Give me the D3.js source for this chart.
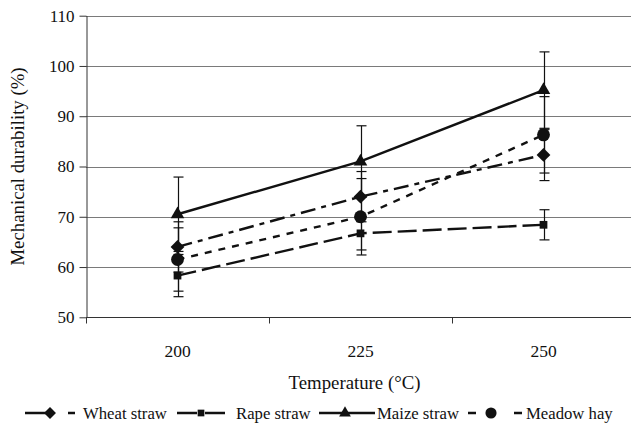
<!DOCTYPE html>
<html>
<head>
<meta charset="utf-8">
<script src="https://cdn.jsdelivr.net/npm/d3@7"></script>
</head>
<body style="margin:0; background:#fff">
<div id="chart"></div>
<script>
let width = 631,
    height = 424,
    margin = ({ top: 15.7, right: -4, bottom: 106.7, left: 86 });

const serif = "Liberation Serif";

// data
const temps = ["200", "225", "250"];
const yTicks = [50, 60, 70, 80, 90, 100, 110];
const wheat = [64.0, 74.0, 82.3];
const wheatErr = [5.0, 5.0, 5.1];
const rape = [58.3, 66.7, 68.4];
const rapeErr = [4.2, 3.3, 3.0];
const maize = [70.5, 81.0, 95.2];
const maizeErr = [7.4, 7.1, 7.6];
const meadow = [61.5, 70.0, 86.3];
const meadowErr = [6.3, 7.6, 7.6];

const series = [
  { name: "Wheat straw", values: wheat, err: wheatErr, symbol: d3.symbolSquare, rot: 45, size: 95, dash: "15,6,5,6", legendDash: "22,21,7,100" },
  { name: "Rape straw", values: rape, err: rapeErr, symbol: d3.symbolSquare, rot: 0, size: 60, dash: "19,6", legendDash: "20,8,20,100" },
  { name: "Maize straw", values: maize, err: maizeErr, symbol: d3.symbolTriangle, rot: 0, size: 80, dash: null, legendDash: null },
  { name: "Meadow hay", values: meadow, err: meadowErr, symbol: d3.symbolCircle, rot: 0, size: 130, dash: "7,7", legendDash: "8,38,8,100" }
];

const svg = d3.select("#chart")
  .append("svg")
  .attr("width", width)
  .attr("height", height);

let x = d3.scaleBand()
  .domain(temps)
  .range([margin.left, width - margin.right]);

let y = d3.scaleLinear()
  .domain([50, 110])
  .range([height - margin.bottom, margin.top]);

const cx = d => x(d) + x.bandwidth() / 2;

// gridlines
svg.append("g")
  .selectAll("line")
  .data(yTicks.slice(1))
  .join("line")
  .attr("x1", margin.left)
  .attr("x2", width)
  .attr("y1", d => Math.round(y(d)) + 0.5)
  .attr("y2", d => Math.round(y(d)) + 0.5)
  .attr("stroke", "#7a7a7a")
  .attr("stroke-width", 1);

// y axis
const yAxis = svg.append("g")
  .attr("transform", `translate(${margin.left + 0.5},0)`)
  .call(d3.axisLeft(y).tickValues(yTicks).tickSize(7).tickSizeOuter(0).tickPadding(5));
yAxis.attr("font-family", null).attr("font-size", null);
yAxis.select(".domain").attr("stroke", "#333");
yAxis.selectAll(".tick line").attr("stroke", "#333");
yAxis.selectAll(".tick text")
  .style("font-family", serif)
  .style("font-size", "17px")
  .attr("fill", "#111");

// x axis line at y=50
const yBase = Math.round(y(50)) + 0.5;
svg.append("line")
  .attr("x1", margin.left)
  .attr("x2", width)
  .attr("y1", yBase)
  .attr("y2", yBase)
  .attr("stroke", "#333");

// boundary ticks between categories
const edges = temps.map(d => x(d)).concat([x.range()[1]]);
svg.append("g")
  .selectAll("line")
  .data(edges)
  .join("line")
  .attr("x1", d => Math.round(d) + 0.5)
  .attr("x2", d => Math.round(d) + 0.5)
  .attr("y1", yBase)
  .attr("y2", yBase + 6)
  .attr("stroke", "#333");

// category labels
svg.append("g")
  .selectAll("text")
  .data(temps)
  .join("text")
  .attr("x", cx)
  .attr("y", 357)
  .attr("text-anchor", "middle")
  .style("font-family", serif)
  .style("font-size", "17.5px")
  .attr("fill", "#111")
  .text(d => d);

// axis titles
svg.append("text")
  .attr("x", cx("225") - 6)
  .attr("y", 389)
  .attr("text-anchor", "middle")
  .style("font-family", serif)
  .style("font-size", "18.8px")
  .attr("fill", "#111")
  .text("Temperature (°C)");

svg.append("text")
  .attr("transform", `translate(24,${(y(50) + y(110)) / 2}) rotate(-90)`)
  .attr("text-anchor", "middle")
  .style("font-family", serif)
  .style("font-size", "18.8px")
  .attr("fill", "#111")
  .text("Mechanical durability (%)");

let line = d3.line()
  .x((d, i) => cx(temps[i]))
  .y(d => y(d));

// error bars
for (let s of series) {
  let g = svg.append("g");
  s.values.forEach((v, i) => {
    let px = Math.round(cx(temps[i])) + 0.5;
    g.append("line")
      .attr("x1", px).attr("x2", px)
      .attr("y1", y(v - s.err[i])).attr("y2", y(v + s.err[i]))
      .attr("stroke", "#111").attr("stroke-width", 1.2);
    [v - s.err[i], v + s.err[i]].forEach(e => {
      g.append("line")
        .attr("x1", px - 5).attr("x2", px + 5)
        .attr("y1", y(e)).attr("y2", y(e))
        .attr("stroke", "#111").attr("stroke-width", 1.2);
    });
  });
}

// lines and markers
for (let s of series) {
  let g = svg.append("g");
  g.append("path")
    .datum(s.values)
    .attr("fill", "none")
    .attr("stroke", "#111")
    .attr("stroke-width", 2.4)
    .attr("stroke-dasharray", s.dash)
    .attr("d", line);

  g.selectAll("path.m")
    .data(s.values)
    .join("path")
    .attr("class", "m")
    .attr("transform", (d, i) => `translate(${cx(temps[i])},${y(d)}) rotate(${s.rot})`)
    .attr("d", d3.symbol().type(s.symbol).size(s.size))
    .attr("fill", "#111");
}

// legend
const legendLine = [[25, 75], [177, 225], [319, 375], [468, 522]];
const legendMark = [50, 201, 345, 491];
const legendText = [83, 236, 377, 526];
const legendY = 413;
const legend = svg.append("g");
series.forEach((s, i) => {
  let g = legend.append("g");
  g.append("line")
    .attr("x1", legendLine[i][0]).attr("x2", legendLine[i][1])
    .attr("y1", legendY).attr("y2", legendY)
    .attr("stroke", "#111")
    .attr("stroke-width", 2.4)
    .attr("stroke-dasharray", s.legendDash);
  g.append("path")
    .attr("transform", `translate(${legendMark[i]},${legendY}) rotate(${s.rot})`)
    .attr("d", d3.symbol().type(s.symbol).size(s.size * 0.75))
    .attr("fill", "#111");
  g.append("text")
    .attr("x", legendText[i])
    .attr("y", legendY + 5.5)
    .style("font-family", serif)
    .style("font-size", "16.7px")
    .attr("fill", "#111")
    .text(s.name);
});
</script>
</body>
</html>
